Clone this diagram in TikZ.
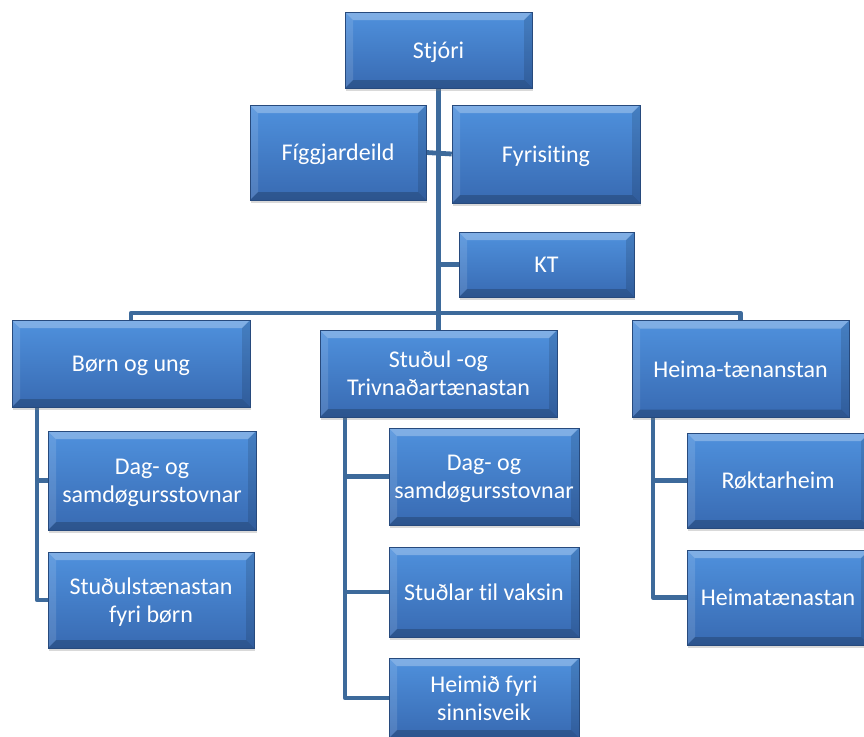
\documentclass[tikz,border=0pt]{standalone}
\usepackage{fontspec}
\setmainfont{Carlito}[Ligatures={NoCommon}]
\usetikzlibrary{shadows,backgrounds}
\definecolor{boxtop}{HTML}{4F91DD}
\definecolor{boxbot}{HTML}{386AB2}
\definecolor{linkblue}{HTML}{3D6A9B}

\begin{document}
\begin{tikzpicture}[x=0.75pt,y=-0.75pt,
  link/.style={draw=linkblue,line width=3.6pt,line join=round},
  boxsize/.style 2 args={minimum width=#1*0.75pt,minimum height=#2*0.75pt},
  orgbox/.style={rectangle,top color=boxtop,bottom color=boxbot,draw=boxbot!70!black,
    line width=0.4pt,text=white,align=center,inner sep=2pt,text depth=0pt,
    font=\fontsize{18}{21}\selectfont,
    drop shadow={opacity=0.3,shadow xshift=1pt,shadow yshift=-2pt},
    path picture={
      \fill[white,opacity=0.28](path picture bounding box.north west)--(path picture bounding box.north east)
        --([shift={(-6pt,-6pt)}]path picture bounding box.north east)--([shift={(6pt,-6pt)}]path picture bounding box.north west)--cycle;
      \fill[white,opacity=0.12](path picture bounding box.north west)--(path picture bounding box.south west)
        --([shift={(6pt,6pt)}]path picture bounding box.south west)--([shift={(6pt,-6pt)}]path picture bounding box.north west)--cycle;
      \fill[black,opacity=0.2](path picture bounding box.south west)--(path picture bounding box.south east)
        --([shift={(-6pt,6pt)}]path picture bounding box.south east)--([shift={(6pt,6pt)}]path picture bounding box.south west)--cycle;
      \fill[black,opacity=0.12](path picture bounding box.north east)--(path picture bounding box.south east)
        --([shift={(-6pt,6pt)}]path picture bounding box.south east)--([shift={(-6pt,-6pt)}]path picture bounding box.north east)--cycle;
    }}]
\useasboundingbox (0,0) rectangle (864,736);
\begin{scope}
\clip (0,0) rectangle (864,736);
%top of the chart
\node[orgbox,boxsize={187}{76}] (stjori) at (438.5,50) {Stjóri};
\node[orgbox,boxsize={176}{95}] (figg) at (338,152.5) {Fíggjardeild};
\node[orgbox,boxsize={188}{98}] (fyri) at (546,154) {Fyrisiting};
\node[orgbox,boxsize={175}{65}] (kt) at (546.5,264.5) {KT};
\coordinate (bus) at (438.5,313);
%departments
\node[orgbox,boxsize={238}{87}] (born) at (131,363.5) {Børn og ung};
\node[orgbox,boxsize={237}{87}] (studul) at (438.5,373.5) {Stuðul -og\\Trivnaðartænastan};
\node[orgbox,boxsize={217}{97}] (heima) at (740.5,369) {Heima-tænanstan};
%units
\node[orgbox,boxsize={208}{99}] (dagA) at (152,480.5) {Dag- og\\samdøgursstovnar};
\node[orgbox,boxsize={206}{96}] (studA) at (151,600) {Stuðulstænastan\\fyri børn};
\node[orgbox,boxsize={190}{97}] (dagB) at (484,476.5) {Dag- og\\samdøgursstovnar};
\node[orgbox,boxsize={190}{90}] (vaksin) at (484,592) {Stuðlar til vaksin};
\node[orgbox,boxsize={190}{80}] (heimid) at (484,698) {Heimið fyri\\sinnisveik};
\node[orgbox,boxsize={182}{95}] (rokt) at (778,480.5) {Røktarheim};
\node[orgbox,boxsize={182}{95}] (heimat) at (778,597.5) {Heimatænastan};
\end{scope}
%connectors behind the boxes
\begin{scope}[on background layer]
\draw[link] (stjori.south) -- (bus);
\draw[link] (figg.east) -- (fyri.west);
\draw[link] (kt.west) -- (kt.west -| bus);
\draw[link] (born.north) |- (bus) -| (heima.north);
\draw[link] (studul.north) -- (studul.north |- bus);
\draw[link] ([xshift=19pt]born.south west) |- (dagA.west);
\draw[link] ([xshift=19pt]born.south west) |- (studA.west);
\draw[link] ([xshift=19pt]studul.south west) |- (dagB.west);
\draw[link] ([xshift=19pt]studul.south west) |- (vaksin.west);
\draw[link] ([xshift=19pt]studul.south west) |- (heimid.west);
\draw[link] ([xshift=16pt]heima.south west) |- (rokt.west);
\draw[link] ([xshift=16pt]heima.south west) |- (heimat.west);
\end{scope}
\end{tikzpicture}
\end{document}
